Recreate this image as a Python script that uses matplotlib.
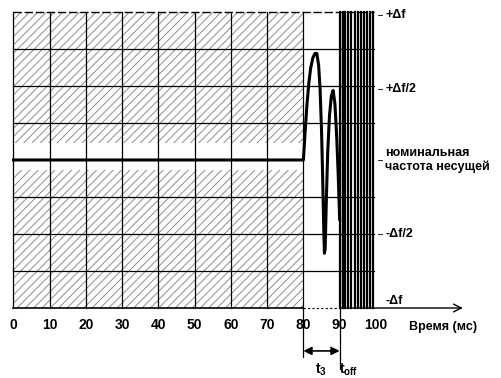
import matplotlib.pyplot as plt

# --- data ---
grid_times = [0, 10, 20, 30, 40, 50, 60, 70, 80, 90]
grid_levels = [-0.75, -0.5, -0.25, 0.25, 0.5, 0.75]
tick_values = [0, 10, 20, 30, 40, 50, 60, 70, 80, 90, 100]

curve_t = [0, 80, 80.5, 81.0, 81.5, 82.0, 82.6, 83.2, 83.7, 84.2, 84.6, 85.0,
           85.3, 85.6, 85.8, 86.0, 86.3, 86.7, 87.2, 87.7, 88.2, 88.7, 89.2,
           89.6, 90.0]
curve_f = [0, 0, 0.2, 0.38, 0.52, 0.62, 0.69, 0.72, 0.72, 0.64, 0.48, 0.2,
           -0.1, -0.45, -0.63, -0.6, -0.3, 0.05, 0.3, 0.43, 0.47, 0.38, 0.15,
           -0.1, -0.4]

burst_t = [90.1, 90.9, 91.6, 92.4, 93.2, 94.1, 95.0, 95.9, 96.8, 97.6, 98.4, 99.3]

level_labels = ['+Δf', '+Δf/2', 'номинальная\nчастота несущей', '-Δf/2', '-Δf']
level_y = [0.98, 0.48, 0.0, -0.5, -0.95]

hatch_end = 80
band_top, band_bottom = 0.115, -0.07
t3_start, t_off = 80, 90

plt.rcParams['font.family'] = ['Liberation Sans', 'DejaVu Sans']
plt.rcParams['font.weight'] = 'bold'
plt.rcParams['mathtext.default'] = 'regular'
plt.rcParams['hatch.linewidth'] = 0.7

fig = plt.figure(figsize=(5.02, 3.78), dpi=100)
ax = fig.add_axes([0, 0, 1, 1])
ax.set_xlim(-3.72, 134.8)
ax.set_ylim(-1.473, 1.081)
ax.axis('off')

# hatched zones (before 80 ms, outside the narrow band around nominal)
ax.fill_between([0, hatch_end], band_top, 1, facecolor='white', edgecolor='0.55',
                hatch='////', linewidth=0)
ax.fill_between([0, hatch_end], -1, band_bottom, facecolor='white', edgecolor='0.55',
                hatch='////', linewidth=0)

# grid
for t in grid_times:
    ax.plot([t, t], [-1, 1], color='black', lw=0.9)
for lv in grid_levels:
    ax.plot([0, 99.5], [lv, lv], color='black', lw=0.9)
ax.plot([0, 99.5], [1, 1], color='black', lw=1.0, ls=(0, (6, 2)))

# time axis with arrow
ax.plot([0, t3_start], [-1, -1], color='black', lw=1.2)
ax.plot([t3_start, t_off], [-1, -1], color='black', lw=0.8, ls=(0, (2, 2)))
ax.annotate('', xy=(124, -1), xytext=(t_off, -1),
            arrowprops=dict(arrowstyle='->', lw=1.0, color='black',
                            mutation_scale=14, shrinkA=0, shrinkB=0))

# frequency curve
ax.plot(curve_t, curve_f, color='black', lw=2.2, solid_joinstyle='round')

# fast oscillation after t_off
for t in burst_t:
    ax.plot([t, t], [-1, 1], color='black', lw=1.6)

# leaders for the level labels
for y in level_y[:4]:
    ax.plot([100.6, 101.8], [y, y], color='black', lw=0.6)

for txt, y in zip(level_labels, level_y):
    ax.text(102.6, y, txt, ha='left', va='center', fontsize=9, fontweight='bold',
            linespacing=1.2)

# tick labels
for v in tick_values:
    ax.text(v, -1.115, str(v), ha='center', va='center', fontsize=10)
ax.text(109, -1.13, 'Время (мс)', ha='left', va='center', fontsize=9)

# t3 dimension
ax.plot([t3_start, t3_start], [-1, -1.33], color='black', lw=0.9)
ax.plot([t_off, t_off], [-1, -1.41], color='black', lw=0.9)
ax.annotate('', xy=(t3_start, -1.29), xytext=(t_off, -1.29),
            arrowprops=dict(arrowstyle='<|-|>', lw=1.2, color='black',
                            mutation_scale=12, shrinkA=0, shrinkB=0))
ax.text(84.8, -1.42, '$t_3$', ha='center', va='center', fontsize=10)
ax.text(92.6, -1.42, '$t_{off}$', ha='center', va='center', fontsize=10)

fig.savefig('out.png', dpi=100)
